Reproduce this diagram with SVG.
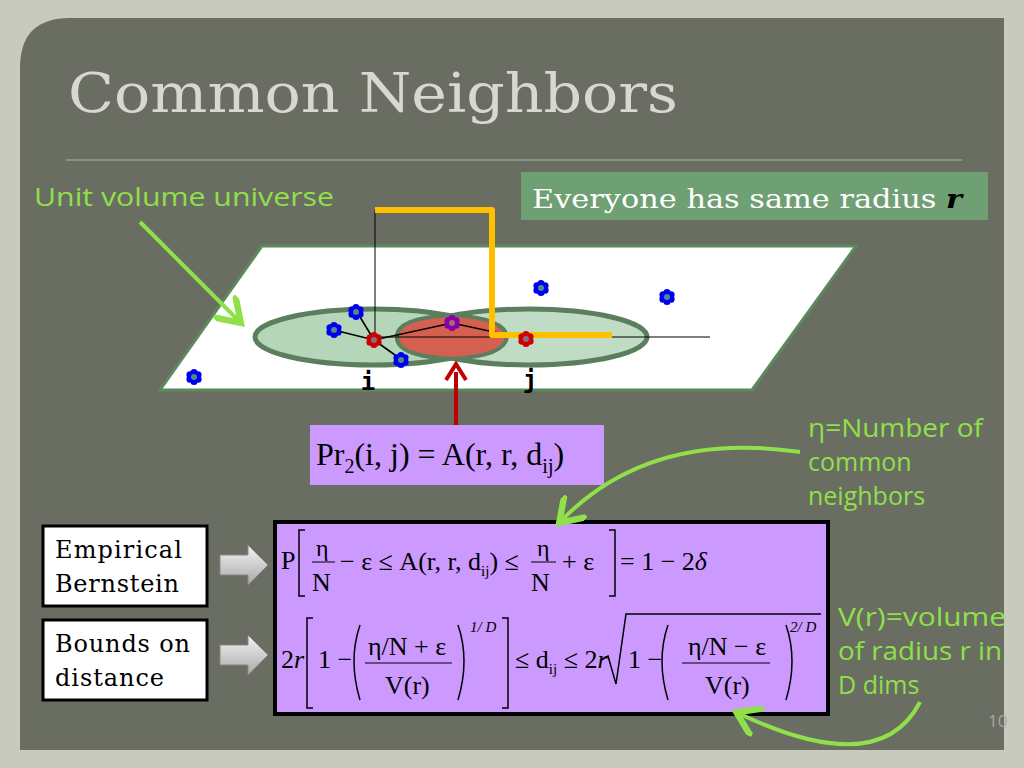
<svg xmlns="http://www.w3.org/2000/svg" xmlns:xlink="http://www.w3.org/1999/xlink" width="1024" height="768" viewBox="0 0 1024 768">
<style>
.s{font-family:"Liberation Serif",serif;fill:#000}
.lbl{font-family:"DejaVu Serif","Liberation Serif",serif;font-size:24px;fill:#000}
.g{font-family:"Open Sans","DejaVu Sans",sans-serif;font-size:25px;fill:#8fe04a}
</style>
<defs>
<g id="fb"><circle cx="0" cy="-4.5" r="3.6" fill="#0000ee"/><circle cx="4" cy="-2.2" r="3.6" fill="#0000ee"/><circle cx="4" cy="2.2" r="3.6" fill="#0000ee"/><circle cx="0" cy="4.5" r="3.6" fill="#0000ee"/><circle cx="-4" cy="2.2" r="3.6" fill="#0000ee"/><circle cx="-4" cy="-2.2" r="3.6" fill="#0000ee"/><circle r="3" fill="#4f8a8a"/></g>
<g id="fr"><circle cx="0" cy="-4.5" r="3.6" fill="#cc0000"/><circle cx="4" cy="-2.2" r="3.6" fill="#cc0000"/><circle cx="4" cy="2.2" r="3.6" fill="#cc0000"/><circle cx="0" cy="4.5" r="3.6" fill="#cc0000"/><circle cx="-4" cy="2.2" r="3.6" fill="#cc0000"/><circle cx="-4" cy="-2.2" r="3.6" fill="#cc0000"/><circle r="3" fill="#8a7070"/></g>
<g id="fp"><circle cx="0" cy="-4.5" r="3.6" fill="#8800aa"/><circle cx="4" cy="-2.2" r="3.6" fill="#8800aa"/><circle cx="4" cy="2.2" r="3.6" fill="#8800aa"/><circle cx="0" cy="4.5" r="3.6" fill="#8800aa"/><circle cx="-4" cy="2.2" r="3.6" fill="#8800aa"/><circle cx="-4" cy="-2.2" r="3.6" fill="#8800aa"/><circle r="3" fill="#9a7070"/></g>
<marker id="ag" markerWidth="8" markerHeight="8" refX="5" refY="4" orient="auto" markerUnits="strokeWidth"><path d="M0,0 L6,4 L0,8" fill="none" stroke="#8fe04a" stroke-width="1.6"/></marker>
<linearGradient id="gb" x1="0" y1="0" x2="0" y2="1"><stop offset="0" stop-color="#f4f4f4"/><stop offset="1" stop-color="#a8a8a8"/></linearGradient>
</defs>
<rect width="1024" height="768" fill="#c9cabe"/>
<path d="M70,18 H1004 V750 H20 V68 Q20,18 70,18 Z" fill="#6a6d61"/>
<text x="68" y="112" font-family="DejaVu Serif,Liberation Serif,serif" font-size="54" fill="#d8d8d0" textLength="610" lengthAdjust="spacingAndGlyphs">Common Neighbors</text>
<line x1="66" y1="160" x2="962" y2="160" stroke="#9a9c90" stroke-width="1.5"/>
<g id="universe">
<polygon points="262,246 856,246 752,390 160,390" fill="#fff" stroke="#5b8a5c" stroke-width="3"/>
<ellipse cx="373" cy="337" rx="118" ry="28" fill="#b6d6ba" stroke="#5b7f5e" stroke-width="5"/>
<ellipse cx="529" cy="337" rx="118" ry="28" fill="#b6d6ba" fill-opacity="0.85" stroke="#5b7f5e" stroke-width="5"/>
<path d="M397,337 Q396,318 452,315 Q505,318 507,337 Q505,356 452,359 Q396,356 397,337Z" fill="#d66050" stroke="#5b7f5e" stroke-width="4"/>
<line x1="375" y1="210" x2="375" y2="340" stroke="#000" stroke-width="1"/>
<line x1="375" y1="337" x2="710" y2="337" stroke="#000" stroke-width="1"/>
<g stroke="#000" stroke-width="1.6"><line x1="374" y1="340" x2="357" y2="312"/><line x1="374" y1="340" x2="334" y2="330"/><line x1="374" y1="340" x2="402" y2="360"/><line x1="374" y1="340" x2="452" y2="323"/><line x1="452" y1="323" x2="526" y2="339"/></g>
<path d="M375,210 H492 V335 H612" fill="none" stroke="#ffc000" stroke-width="6" stroke-linejoin="round"/>
<use xlink:href="#fb" x="356" y="312"/><use xlink:href="#fb" x="334" y="330"/><use xlink:href="#fb" x="401" y="360"/>
<use xlink:href="#fb" x="541" y="288"/><use xlink:href="#fb" x="667" y="297"/><use xlink:href="#fb" x="194" y="377"/>
<use xlink:href="#fr" x="374" y="340"/><use xlink:href="#fr" x="526" y="339"/><use xlink:href="#fp" x="452" y="323"/>
<text x="368" y="390" font-family="DejaVu Sans Mono,monospace" font-weight="bold" font-size="24" text-anchor="middle">i</text>
<text x="530" y="388" font-family="DejaVu Sans Mono,monospace" font-weight="bold" font-size="24" text-anchor="middle">j</text>
</g>
<g id="title-r">
<rect x="521" y="172" width="467" height="48" fill="#6fa074"/>
<text x="532" y="208" font-family="DejaVu Serif,Liberation Serif,serif" font-size="26" fill="#fff" textLength="430" lengthAdjust="spacingAndGlyphs">Everyone has same radius <tspan font-weight="bold" font-style="italic" fill="#000">r</tspan></text>
</g>
<text x="34" y="206" class="g" textLength="300" lengthAdjust="spacingAndGlyphs">Unit volume universe</text>
<text x="808" y="437" class="g" textLength="175" lengthAdjust="spacingAndGlyphs">η=Number of</text>
<text x="808" y="471" class="g">common</text>
<text x="808" y="505" class="g">neighbors</text>
<text x="838" y="626" class="g" textLength="168" lengthAdjust="spacingAndGlyphs">V(r)=volume</text>
<text x="838" y="660" class="g" textLength="164" lengthAdjust="spacingAndGlyphs">of radius r in</text>
<text x="838" y="694" class="g">D dims</text>
<text x="988" y="727" font-family="Open Sans,sans-serif" font-size="17" fill="#a8a8a0">10</text>
<g id="pr">
<rect x="310" y="425" width="294" height="60" fill="#cc99ff"/>
<text x="316" y="465" class="s" font-size="32">Pr<tspan font-size="20" dy="8">2</tspan><tspan dy="-8">(i, j) = A(r, r, d</tspan><tspan font-size="20" dy="8">ij</tspan><tspan dy="-8">)</tspan></text>
</g>
<g id="eq">
<rect x="275" y="522" width="553" height="192" fill="#cc99ff" stroke="#000" stroke-width="4"/>
<g class="s" font-size="26">
<text x="281" y="569">P</text>
<path d="M305,530 h-6 v66 h6 M609,530 h6 v66 h-6" fill="none" stroke="#000" stroke-width="1.5"/>
<text x="316" y="556" font-size="24">η</text><line x1="312" y1="562" x2="335" y2="562" stroke="#000"/><text x="312" y="591">N</text>
<text x="340" y="570">− ε ≤ A(r, r, d<tspan font-size="15" dy="6">ij</tspan><tspan dy="-6">) ≤</tspan></text>
<text x="537" y="556" font-size="24">η</text><line x1="531" y1="562" x2="556" y2="562" stroke="#000"/><text x="531" y="591">N</text>
<text x="562" y="570">+ ε</text>
<text x="620" y="570">= 1 − 2<tspan font-style="italic">δ</tspan></text>
<text x="281" y="668">2<tspan font-style="italic">r</tspan></text>
<path d="M313,618 h-6 v90 h6 M502,618 h6 v90 h-6" fill="none" stroke="#000" stroke-width="1.5"/>
<text x="318" y="668">1 −</text>
<path d="M360,625 Q348,660 360,700 M458,625 Q470,660 458,700" fill="none" stroke="#000" stroke-width="1.5"/>
<text x="368" y="655">η/N + ε</text><line x1="365" y1="663" x2="452" y2="663" stroke="#000"/><text x="385" y="694">V(r)</text>
<text x="470" y="632" font-size="15" font-style="italic">1/ D</text>
<text x="515" y="668">≤ d<tspan font-size="15" dy="6">ij</tspan><tspan dy="-6"> ≤ 2</tspan><tspan font-style="italic">r</tspan></text>
<path d="M602,660 l6,-4 l8,28 l10,-70 h195" fill="none" stroke="#000" stroke-width="1.5"/>
<text x="628" y="668">1 −</text>
<path d="M668,625 Q656,660 668,700 M786,625 Q798,660 786,700" fill="none" stroke="#000" stroke-width="1.5"/>
<text x="688" y="655">η/N − ε</text><line x1="682" y1="663" x2="770" y2="663" stroke="#000"/><text x="705" y="694">V(r)</text>
<text x="790" y="632" font-size="15" font-style="italic">2/ D</text>
</g>
</g>
<g id="emp"><rect x="43" y="526" width="164" height="80" fill="#fff" stroke="#000" stroke-width="3"/>
<text x="55" y="558" class="lbl" textLength="127">Empirical</text><text x="55" y="592" class="lbl" textLength="124">Bernstein</text></g>
<g id="bnd"><rect x="43" y="620" width="164" height="80" fill="#fff" stroke="#000" stroke-width="3"/>
<text x="55" y="652" class="lbl" textLength="135">Bounds on</text><text x="55" y="686" class="lbl" textLength="109">distance</text></g>
<g id="connectors">
<path d="M220,555 h28 v-10 l20,20 l-20,20 v-10 h-28 z" fill="url(#gb)" stroke="#888"/>
<path d="M220,645 h28 v-10 l20,20 l-20,20 v-10 h-28 z" fill="url(#gb)" stroke="#888"/>
<line x1="140" y1="222" x2="238" y2="320" stroke="#8fe04a" stroke-width="4" marker-end="url(#ag)"/>
<path d="M800,452 Q650,430 562,520" fill="none" stroke="#8fe04a" stroke-width="4" marker-end="url(#ag)"/>
<path d="M920,702 Q880,780 740,714" fill="none" stroke="#8fe04a" stroke-width="4" marker-end="url(#ag)"/>
<line x1="456" y1="425" x2="456" y2="372" stroke="#c00000" stroke-width="4"/>
<path d="M446,380 L456,364 L466,380" fill="none" stroke="#c00000" stroke-width="4"/>
</g>
</svg>
